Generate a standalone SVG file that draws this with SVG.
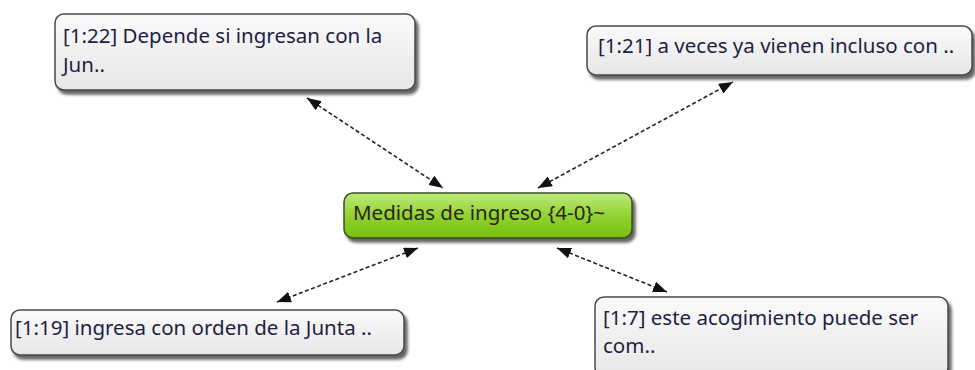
<svg xmlns="http://www.w3.org/2000/svg" width="975" height="370" viewBox="0 0 975 370">
<defs>
<linearGradient id="gGray" x1="0" y1="0" x2="0" y2="1">
<stop offset="0" stop-color="#fafafa"/>
<stop offset="1" stop-color="#e6e6e6"/>
</linearGradient>
<linearGradient id="gGreen" x1="0" y1="0" x2="0" y2="1">
<stop offset="0" stop-color="#bdea7a"/>
<stop offset="0.5" stop-color="#92d232"/>
<stop offset="1" stop-color="#76bf0c"/>
</linearGradient>
<filter id="sh" x="-10%" y="-20%" width="125%" height="160%">
<feDropShadow dx="3" dy="4" stdDeviation="1.8" flood-color="#333" flood-opacity="0.75"/>
</filter>
<marker id="ah" markerUnits="userSpaceOnUse" markerWidth="15" markerHeight="11" refX="14" refY="5.5" orient="auto-start-reverse">
<path d="M0,0 L14,5.5 L0,11 z" fill="#111"/>
</marker>
</defs>
<style>
.box{fill:url(#gGray);stroke:#4a4a4a;stroke-width:1.5;filter:url(#sh)}
.core{fill:url(#gGreen);stroke:#3d4d2a;stroke-width:1.5;filter:url(#sh)}
.t{font-family:"Noto Sans","Open Sans","Liberation Sans",sans-serif;font-size:20.5px;fill:#1e1e44}
.tc{font-family:"Noto Sans","Open Sans","Liberation Sans",sans-serif;font-size:20.5px;fill:#2a2416}
.c{stroke:#222;stroke-width:1.6;stroke-dasharray:4 2.5;fill:none;marker-start:url(#ah);marker-end:url(#ah)}
</style>
<g id="connectors">
<line class="c" x1="307" y1="98" x2="443" y2="188"/>
<line class="c" x1="538" y1="188" x2="733" y2="82"/>
<line class="c" x1="418" y1="248" x2="277" y2="302"/>
<line class="c" x1="557" y1="248" x2="667" y2="292"/>
</g>
<g id="n122">
<rect class="box" x="55" y="14" width="360" height="76" rx="9"/>
<text class="t" x="63" y="43">[1:22] Depende si ingresan con la</text>
<text class="t" x="63" y="72">Jun..</text>
</g>
<g id="n121">
<rect class="box" x="587" y="26" width="385" height="49" rx="9"/>
<text class="t" x="598" y="53">[1:21] a veces ya vienen incluso con ..</text>
</g>
<g id="center">
<rect class="core" x="344" y="193" width="288" height="45" rx="9"/>
<text class="tc" x="353" y="220">Medidas de ingreso {4-0}~</text>
</g>
<g id="n119">
<rect class="box" x="11" y="310" width="393" height="45" rx="9"/>
<text class="t" x="15" y="335">[1:19] ingresa con orden de la Junta ..</text>
</g>
<g id="n17">
<rect class="box" x="595" y="297" width="353" height="80" rx="9"/>
<text class="t" x="603" y="325">[1:7] este acogimiento puede ser</text>
<text class="t" x="603" y="353">com..</text>
</g>
</svg>
